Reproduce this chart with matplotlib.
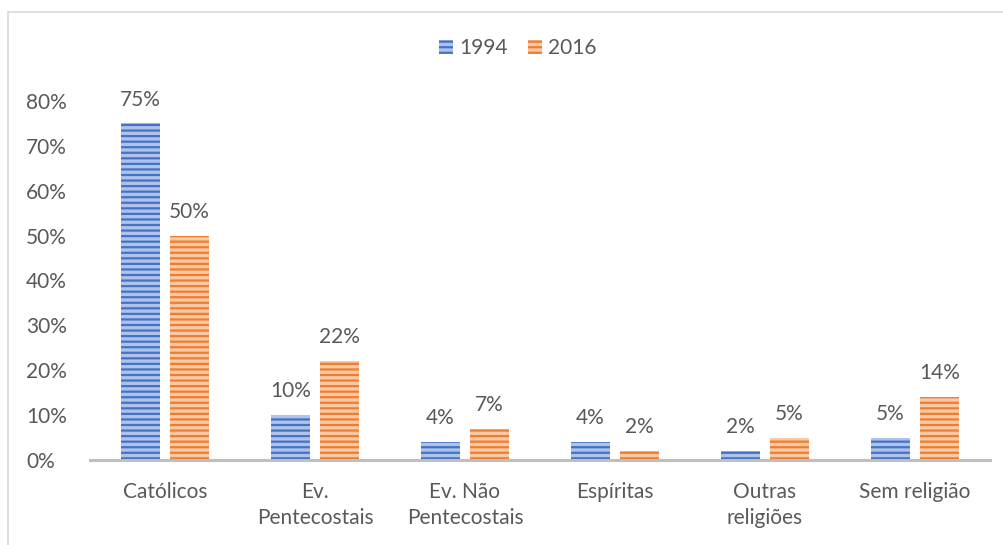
import matplotlib
matplotlib.use("Agg")
import matplotlib.pyplot as plt
from matplotlib.lines import Line2D
import numpy as np

categories = ["Católicos", "Ev.\nPentecostais", "Ev. Não\nPentecostais", "Espíritas", "Outras\nreligiões", "Sem religião"]
series_names = ["1994", "2016"]
values_1994 = [75, 10, 4, 4, 2, 5]
values_2016 = [50, 22, 7, 2, 5, 14]
y_ticks = [0, 10, 20, 30, 40, 50, 60, 70, 80]

plt.rcParams['font.family'] = ['Lato', 'DejaVu Sans']
plt.rcParams['hatch.linewidth'] = 1.6
txt = '#595959'
fs = 15

fig = plt.figure(figsize=(10.04, 5.45), dpi=100)
ax = fig.add_axes([90/1004, 1-460/545, 900/1004, 359/545])

x = np.arange(len(categories))
w = 0.26
off = 0.163
b1 = ax.bar(x - off, values_1994, w, facecolor='#AFC3EA', edgecolor='#4472C4', hatch='---', linewidth=0, label=series_names[0])
b2 = ax.bar(x + off, values_2016, w, facecolor='#F9C9A6', edgecolor='#ED7D31', hatch='---', linewidth=0, label=series_names[1])

for bars, vals in ((b1, values_1994), (b2, values_2016)):
    for r, v in zip(bars, vals):
        ax.annotate(f"{v}%", (r.get_x() + r.get_width()/2, r.get_height()), xytext=(0, 10),
                    textcoords='offset points', ha='center', va='bottom', fontsize=fs, color=txt)

ax.set_xlim(-0.5, len(categories) - 0.5)
ax.set_ylim(0, 80)
ax.set_yticks(y_ticks)
ax.set_yticklabels([f"{t}%" for t in y_ticks])
ax.set_xticks(x)
ax.set_xticklabels(categories, linespacing=1.35)
ax.tick_params(axis='both', length=0, labelsize=fs, colors=txt)
ax.tick_params(axis='x', pad=16)
for s in ['top', 'right', 'left']:
    ax.spines[s].set_visible(False)
ax.spines['bottom'].set_color('#BFBFBF')
ax.spines['bottom'].set_linewidth(2.2)
for lbl in ax.get_yticklabels():
    lbl.set_horizontalalignment('left')
ax.yaxis.set_tick_params(pad=64 * 0.72)

leg = fig.legend(handles=[b1, b2], loc='center', bbox_to_anchor=(518/1004, 1-48/545), ncol=2,
                 frameon=False, fontsize=fs, handlelength=0.65, handleheight=0.65,
                 handletextpad=0.3, columnspacing=1.0)
for t in leg.get_texts():
    t.set_color(txt)

fig.add_artist(Line2D([8/1004, 8/1004], [0, 1-12/545], color='#D9D9D9', lw=1.2))
fig.add_artist(Line2D([8/1004, 1], [1-12/545, 1-12/545], color='#D9D9D9', lw=1.2))

fig.savefig("out.png", dpi=100)
